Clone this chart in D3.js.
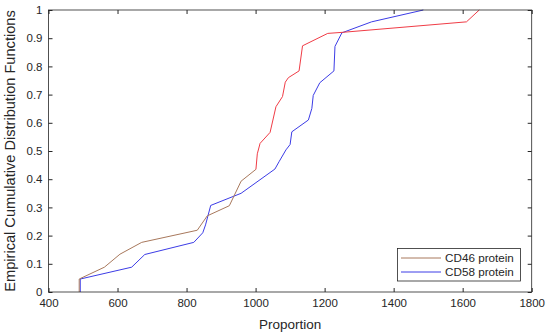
<!DOCTYPE html>
<html><head><meta charset="utf-8">
<script src="https://cdn.jsdelivr.net/npm/d3@7"></script>
<style>body{margin:0;background:#fff}svg{display:block}text{font-family:"Liberation Sans",Arial,sans-serif}</style>
</head><body><svg id="c" width="550" height="336"></svg>
<script>
const xTicks=[400,600,800,1000,1200,1400,1600,1800];
const yTicks=[0,0.1,0.2,0.3,0.4,0.5,0.6,0.7,0.8,0.9,1];
const seriesNames=["CD46 protein","CD58 protein"];
// CD46 (lower part drawn brown, upper part red)
const cd46X=[489,489,562,607,670,831,860,924,958,1001,1005,1013,1042,1059,1078,1086,1095,1126,1136,1209,1254,1611,1648];
const cd46Y=[0,0.046,0.088,0.134,0.176,0.219,0.27,0.306,0.393,0.435,0.49,0.527,0.566,0.657,0.693,0.744,0.76,0.784,0.873,0.917,0.921,0.958,1.0];
const cd46SplitIndex=9;
const cd58X=[492,492,641,679,821,847,855,870,958,1056,1068,1088,1100,1105,1153,1163,1167,1186,1227,1230,1250,1336,1486];
const cd58Y=[0,0.046,0.088,0.133,0.176,0.21,0.238,0.307,0.35,0.436,0.462,0.504,0.523,0.568,0.61,0.651,0.697,0.742,0.784,0.871,0.919,0.958,1.0];

const W=550,H=336,m={l:48.5,r:18.3,t:10,b:44};
const svg=d3.select("#c");
const x=d3.scaleLinear().domain([400,1800]).range([m.l,W-m.r]);
const y=d3.scaleLinear().domain([0,1]).range([H-m.b,m.t]);
const axCol="#262626";
const colBrown="#a8785c", colRed="#f03c46", colBlue="#3c3ce6";

const pts=(X,Y)=>X.map((v,i)=>[v,Y[i]]);
const line=d3.line().x(d=>x(d[0])).y(d=>y(d[1]));
const c46=pts(cd46X,cd46Y), c58=pts(cd58X,cd58Y);
svg.append("path").attr("d",line(c58)).attr("fill","none").attr("stroke",colBlue).attr("stroke-width",1);
svg.append("path").attr("d",line(c46.slice(0,cd46SplitIndex+1))).attr("fill","none").attr("stroke",colBrown).attr("stroke-width",1);
svg.append("path").attr("d",line(c46.slice(cd46SplitIndex))).attr("fill","none").attr("stroke",colRed).attr("stroke-width",1);

function style(g){g.selectAll("path.domain").remove();g.selectAll("line").attr("stroke",axCol);g.selectAll("text").attr("fill",axCol).style("font-size","11.5px");}
svg.append("g").attr("transform",`translate(0,${H-m.b})`).call(d3.axisBottom(x).tickValues(xTicks).tickSize(-4).tickPadding(7).tickFormat(d3.format("d"))).call(style);
svg.append("g").attr("transform",`translate(0,${m.t})`).call(d3.axisTop(x).tickValues(xTicks).tickSize(-4).tickFormat("")).call(style);
svg.append("g").attr("transform",`translate(${m.l},0)`).call(d3.axisLeft(y).tickValues(yTicks).tickSize(-4).tickPadding(6).tickFormat(d=>d===0||d===1?String(d):d3.format(".1f")(d))).call(style);
svg.append("g").attr("transform",`translate(${W-m.r},0)`).call(d3.axisRight(y).tickValues(yTicks).tickSize(-4).tickFormat("")).call(style);
svg.append("rect").attr("x",m.l).attr("y",m.t).attr("width",W-m.r-m.l).attr("height",H-m.b-m.t).attr("fill","none").attr("stroke",axCol).attr("stroke-width",0.8);

svg.append("text").attr("x",(m.l+W-m.r)/2).attr("y",329).attr("text-anchor","middle").attr("fill",axCol).style("font-size","13.5px").text("Proportion");
svg.append("text").attr("transform",`translate(15,${(m.t+H-m.b)/2}) rotate(-90)`).attr("text-anchor","middle").attr("fill",axCol).style("font-size","14.6px").text("Empirical Cumulative Distribution Functions");

const lg=svg.append("g");
lg.append("rect").attr("x",397.5).attr("y",248.5).attr("width",123).attr("height",32.5).attr("fill","#fff").attr("stroke",axCol).attr("stroke-width",0.8);
const lcols=[colBrown,colBlue];
seriesNames.forEach((n,i)=>{
  const yy=258+i*14;
  lg.append("line").attr("x1",401).attr("x2",441).attr("y1",yy).attr("y2",yy).attr("stroke",lcols[i]).attr("stroke-width",1);
  lg.append("text").attr("x",445).attr("y",yy+4).attr("fill",axCol).style("font-size","11.7px").text(n);
});
</script></body></html>
